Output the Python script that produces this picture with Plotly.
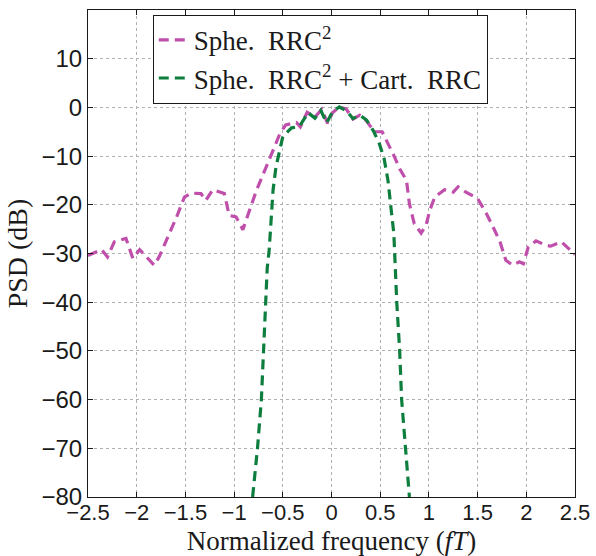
import plotly.graph_objects as go

# Spherical RRC^2 PSD
sphe_f = [-2.50, -2.36, -2.30, -2.23, -2.11, -2.04, -1.97, -1.82, -1.77, -1.70,
          -1.59, -1.51, -1.44, -1.34, -1.29, -1.22, -1.10, -1.05, -0.98, -0.91,
          -0.84, -0.77, -0.67, -0.60, -0.53, -0.47, -0.36, -0.32, -0.25, -0.17,
          -0.10, -0.04, 0.01, 0.08, 0.15, 0.22, 0.29, 0.36, 0.44, 0.52,
          0.59, 0.65, 0.70, 0.77, 0.80, 0.85, 0.92, 0.97, 1.01, 1.06,
          1.16, 1.25, 1.30, 1.38, 1.50, 1.59, 1.66, 1.73, 1.79, 1.86,
          1.93, 1.97, 2.02, 2.10, 2.20, 2.25, 2.36, 2.50]
sphe_db = [-30.4, -29.2, -30.7, -27.6, -26.9, -31.0, -29.2, -32.4, -30.7, -27.6,
           -22.5, -18.4, -17.6, -17.7, -19.1, -16.9, -17.7, -22.2, -22.5, -25.1,
           -21.1, -17.0, -12.2, -8.8, -5.4, -3.6, -3.1, -4.0, -1.0, -2.0,
           -0.4, -3.3, -1.1, 0.1, -0.3, -2.4, -1.6, -2.8, -5.0, -5.0,
           -7.8, -10.3, -12.6, -15.0, -19.8, -23.9, -25.8, -24.2, -21.1, -18.4,
           -16.9, -17.4, -16.3, -17.4, -18.7, -21.8, -24.6, -27.6, -31.4, -32.4,
           -31.7, -32.1, -28.7, -27.4, -28.3, -28.5, -27.6, -30.2]

# Spherical RRC^2 + Cartesian RRC PSD
cart_f = [-0.81, -0.76, -0.72, -0.70, -0.68, -0.66, -0.64, -0.62, -0.60, -0.57,
          -0.53, -0.50, -0.41, -0.33, -0.24, -0.17, -0.11, -0.05, 0.01, 0.08,
          0.16, 0.22, 0.29, 0.36, 0.43, 0.49, 0.54, 0.58, 0.61, 0.64,
          0.655, 0.67, 0.70, 0.71, 0.72, 0.76, 0.80]
cart_db = [-80.0, -70.0, -60.0, -50.0, -40.0, -33.0, -29.3, -23.9, -17.0, -12.2,
           -8.8, -6.0, -4.2, -3.9, -1.1, -2.2, -0.6, -3.2, -0.9, 0.1,
           -0.8, -2.3, -1.6, -2.6, -4.8, -7.4, -10.5, -15.0, -20.5, -25.9,
           -33.0, -40.0, -50.0, -56.0, -60.0, -70.0, -80.0]

x_ticks = [-2.5, -2, -1.5, -1, -0.5, 0, 0.5, 1, 1.5, 2, 2.5]
x_ticktext = ["\u22122.5", "\u22122", "\u22121.5", "\u22121", "\u22120.5", "0",
              "0.5", "1", "1.5", "2", "2.5"]
y_ticks = [-80, -70, -60, -50, -40, -30, -20, -10, 0, 10]
y_ticktext = ["\u221280", "\u221270", "\u221260", "\u221250", "\u221240", "\u221230",
              "\u221220", "\u221210", "0", "10"]

PURPLE = "#BF4FAA"
GREEN = "#0E7E3E"
SERIF = "Liberation Serif, Times New Roman, serif"
INK = "#1a1a1a"

fig = go.Figure()
fig.add_trace(go.Scatter(x=sphe_f, y=sphe_db, mode="lines",
                         name="Sphe.  RRC<sup>2</sup>",
                         line=dict(color=PURPLE, width=3.2, dash="10px,6px")))
fig.add_trace(go.Scatter(x=cart_f, y=cart_db, mode="lines",
                         name="Sphe.  RRC<sup>2</sup> + Cart.  RRC",
                         line=dict(color=GREEN, width=3.2, dash="10px,6px")))

axis_common = dict(
    showline=True, linecolor=INK, linewidth=1, mirror="ticks",
    ticks="inside", ticklen=5, tickcolor=INK,
    showgrid=True, gridcolor="#b0b0b0", gridwidth=1, griddash="dot",
    zeroline=False, automargin=False,
)

fig.update_layout(
    width=596, height=556,
    margin=dict(l=88, r=21, t=10, b=59),
    paper_bgcolor="white", plot_bgcolor="white",
    xaxis=dict(range=[-2.5, 2.5], tickvals=x_ticks, ticktext=x_ticktext,
               tickfont=dict(family="Liberation Sans, Arial", size=22, color=INK),
               ticklabelstandoff=-4,
               title=dict(text="Normalized frequency (<i>fT</i>)",
                          font=dict(family=SERIF, size=27, color=INK),
                          standoff=6),
               **axis_common),
    yaxis=dict(range=[-80, 20], tickvals=y_ticks, ticktext=y_ticktext,
               tickfont=dict(family="Liberation Sans, Arial", size=24, color=INK),
               title=dict(text="PSD (dB)",
                          font=dict(family=SERIF, size=28, color=INK),
                          standoff=5),
               **axis_common),
    legend=dict(x=0.133, y=0.99, xanchor="left", yanchor="top",
                bgcolor="white", bordercolor=INK, borderwidth=1,
                font=dict(family=SERIF, size=27, color=INK),
                tracegroupgap=0, itemwidth=30),
    showlegend=True,
)

fig.write_html("out.html")
